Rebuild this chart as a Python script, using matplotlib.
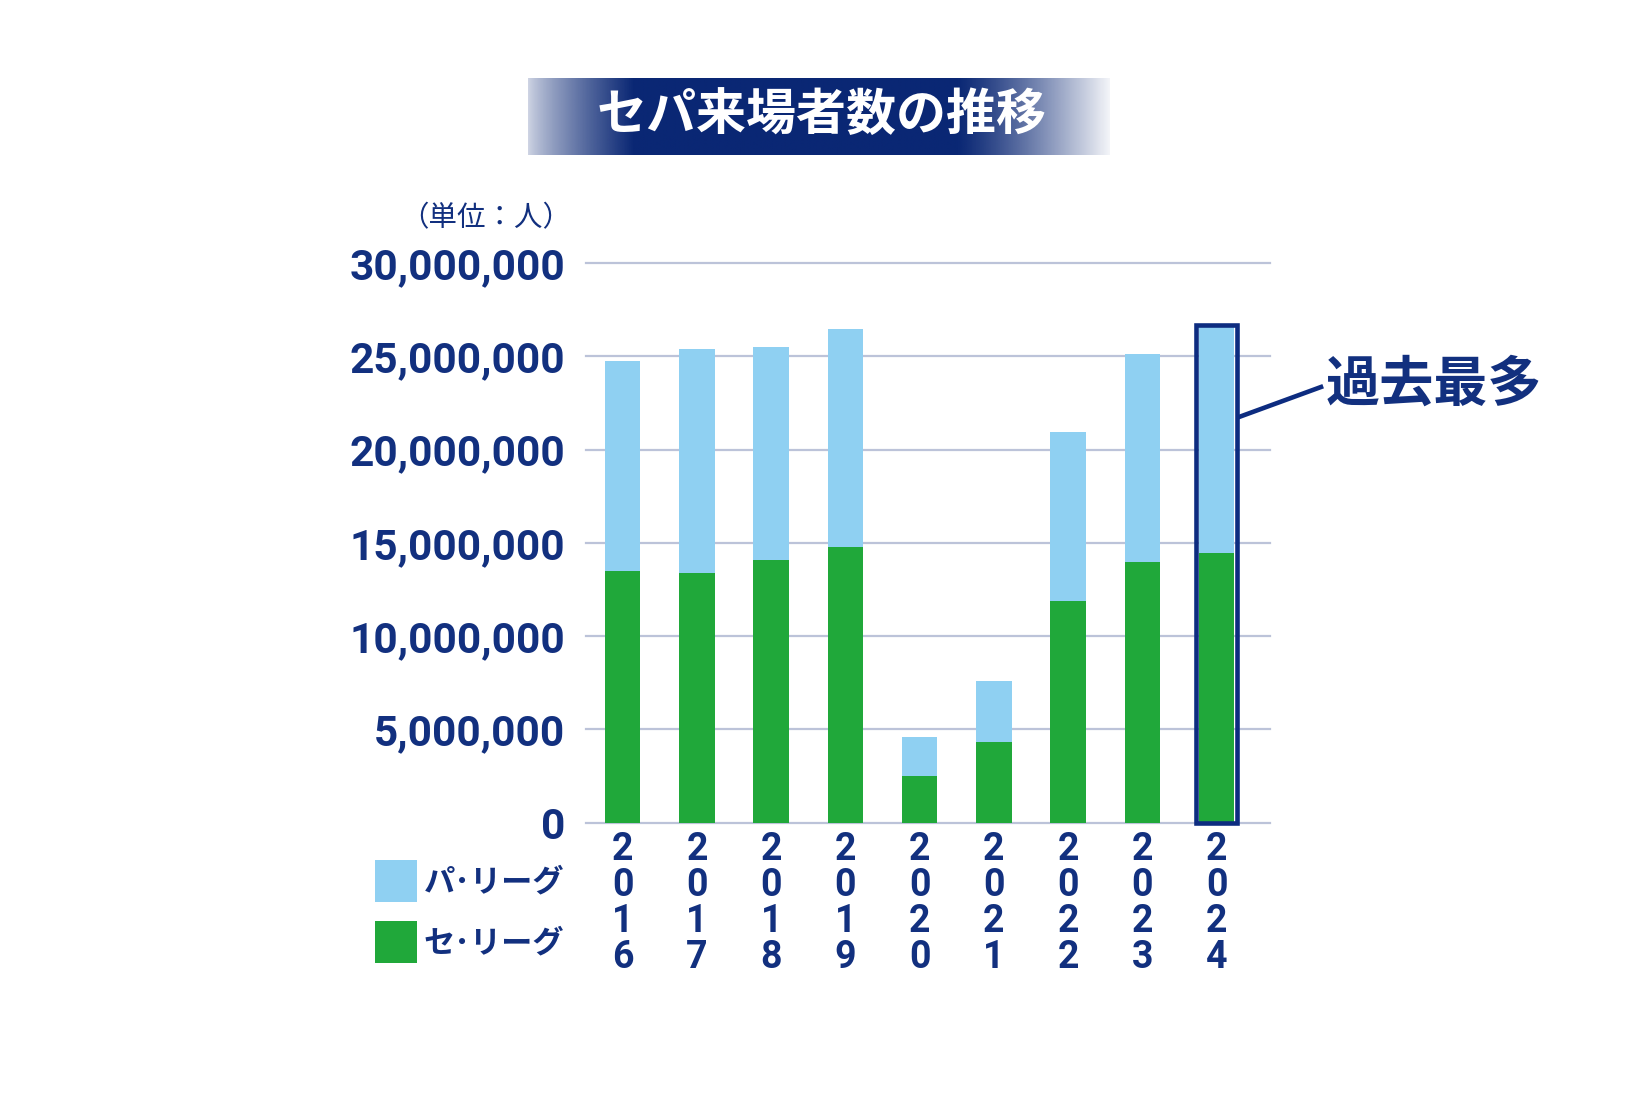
import numpy as np
import matplotlib.pyplot as plt
from matplotlib.patches import Rectangle

# ====================================================================
# DATA (persons)
years = [2016, 2017, 2018, 2019, 2020, 2021, 2022, 2023, 2024]
se_league = [13_500_000, 13_410_000, 14_090_000, 14_780_000, 2_520_000,
             4_340_000, 11_900_000, 13_980_000, 14_460_000]
pa_league = [11_260_000, 11_970_000, 11_390_000, 11_670_000, 2_080_000,
             3_280_000, 9_050_000, 11_120_000, 12_190_000]
y_ticks = [0, 5_000_000, 10_000_000, 15_000_000, 20_000_000, 25_000_000, 30_000_000]

title = "セパ来場者数の推移"
unit_label = "（単位：人）"
legend_labels = ["パ･リーグ", "セ･リーグ"]
highlight_label = "過去最多"

# ====================================================================
# STYLE
W, H = 1640, 1093
NAVY = "#12307f"
LIGHT_BLUE = "#8fd0f2"
GREEN = "#20a83a"
GRID = "#bcc3d9"
NUM_FONT = ["Roboto", "Noto Sans CJK JP"]
JP_FONT = ["Noto Sans CJK JP", "DejaVu Sans"]


def px(x, y):
    """pixel coords (top-left origin) -> figure fraction"""
    return x / W, 1 - y / H


fig = plt.figure(figsize=(W / 100, H / 100), dpi=100)
fig.patch.set_facecolor("white")

# --- title banner with a gradient that fades out at the edges
bx0, by0, bx1, by1 = 528, 78, 1110, 155
bax = fig.add_axes([bx0 / W, 1 - by1 / H, (bx1 - bx0) / W, (by1 - by0) / H])
t = np.linspace(0, 1, 600)
alpha = np.ones_like(t)
alpha = np.where(t < 0.18, 0.2 + 0.8 * (t / 0.18) ** 0.8, alpha)
alpha = np.where(t > 0.74, 1 - ((t - 0.74) / 0.26) ** 1.2 * 0.95, alpha)
rgba = np.zeros((2, len(t), 4))
rgba[..., :3] = np.array([10, 39, 116]) / 255
rgba[..., 3] = alpha
bax.imshow(rgba, aspect="auto", extent=[0, 1, 0, 1])
bax.axis("off")
fig.text(*px(822, 116), title, family=JP_FONT, fontsize=36, fontweight="bold",
         color="white", ha="center", va="center")

# --- main chart
ax_l, ax_r, ax_t, ax_b = 586, 1270, 263, 822.7
ax = fig.add_axes([ax_l / W, 1 - ax_b / H, (ax_r - ax_l) / W, (ax_b - ax_t) / H])
x = np.arange(len(years))
bar_w = 0.478
ax.bar(x, se_league, width=bar_w, color=GREEN, zorder=3)
ax.bar(x, pa_league, width=bar_w, bottom=se_league, color=LIGHT_BLUE, zorder=3)

# outline on the record year
totals = np.array(se_league) + np.array(pa_league)
rec = int(np.argmax(totals))
ax.bar(x[rec], totals[rec], width=0.553, fill=False, edgecolor="#0d2c80",
       linewidth=3.3, zorder=4, clip_on=False)

ax.set_xlim(-0.495, 8.72)
ax.set_ylim(0, 30_000_000)
ax.set_yticks(y_ticks)
ax.set_yticklabels([f"{v:,}" for v in y_ticks])
for v in y_ticks:
    ax.axhline(v, color=GRID, linewidth=1.6, zorder=1, clip_on=False)
for s in ax.spines.values():
    s.set_visible(False)
ax.tick_params(axis="y", length=0, pad=15)
ax.tick_params(axis="x", length=0, pad=6)
for lab in ax.get_yticklabels():
    lab.set_family(NUM_FONT)
    lab.set_fontsize(30.5)
    lab.set_fontweight("bold")
    lab.set_color(NAVY)

ax.set_xticks(x)
ax.set_xticklabels(["\n".join(str(y)) for y in years])
for lab in ax.get_xticklabels():
    lab.set_family(NUM_FONT)
    lab.set_fontsize(27)
    lab.set_fontweight("bold")
    lab.set_color(NAVY)
    lab.set_linespacing(0.96)

# unit label
fig.text(*px(571, 218), unit_label, family=JP_FONT, fontsize=20.5,
         color=NAVY, ha="right", va="center")

# legend (pa on top, se below)
for i, (lbl, col) in enumerate(zip(legend_labels, [LIGHT_BLUE, GREEN])):
    top = 860 + i * 61
    fx, fy = px(375, top + 42)
    fig.add_artist(Rectangle((fx, fy), 42 / W, 42 / H, transform=fig.transFigure,
                             facecolor=col, edgecolor="none"))
    fig.text(*px(424, top + 22), lbl, family=JP_FONT, fontsize=22.5,
             fontweight="bold", color=NAVY, ha="left", va="center")

# record annotation
fig.add_artist(plt.Line2D([1239 / W, 1321 / W], [1 - 417 / H, 1 - 387 / H],
                          transform=fig.transFigure, color="#0d2c80", linewidth=3.3))
fig.text(*px(1326, 385), highlight_label, family=JP_FONT, fontsize=39,
         fontweight="bold", color=NAVY, ha="left", va="center")

fig.savefig("out.png", dpi=100)
plt.close(fig)
